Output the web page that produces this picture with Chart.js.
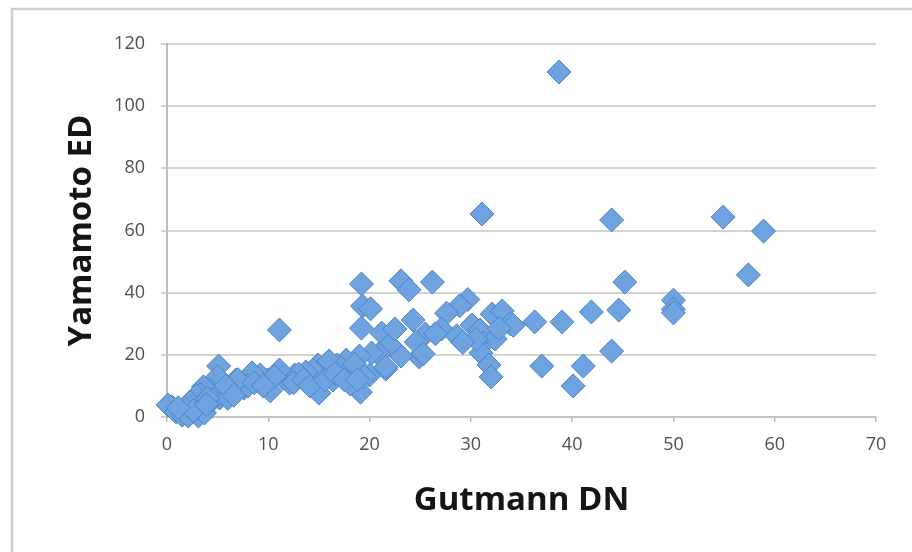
<!DOCTYPE html>
<html><head><meta charset="utf-8">
<script src="https://cdn.jsdelivr.net/npm/chart.js@4/dist/chart.umd.min.js"></script>
<style>html,body{margin:0;padding:0;background:#fff}#wrap{width:912px;height:552px;position:relative}</style>
</head><body><div id="wrap"><canvas id="c" width="912" height="552"></canvas></div>
<script>
const gutmannDN = [38.7,31.1,43.9,54.9,58.9,57.4,45.2,50,50,50,44.6,41.9,43.9,41.1,40.1,39,36.3,37,
  11.1,19.2,23.1,23.9,26.2,19.3,20.1,19.2,21.2,24.3,29.7,28.9,27.6,27.1,28.6,30.1,30.9,31.3,31,32.1,33.1,33.9,
  31.8,32,32.4,25.5,24.9,23.1,22,20.9,20.2,20,21.6,19.1,18.1,18.3,19,17.7,16.8,16.4,15.7,14.9,15,14.4,13.7,12.6,
  11.5,12.1,11.1,9.9,10.2,9.2,8.4,7.6,6.8,6.2,5.5,5.1,5,5.2,4.2,3.6,3.3,3.4,2.9,2.3,1.7,0.5,0.1,0.9,1.5,2.1,3.1,3.7,4.5,
  22.5,24.6,25.3,21.6,26.5,13,16,17.2,6,8,18.5,19.5,34.2,32.8,
  7,8.6,10.6,12.5,13.5,14.1,15.6,16.6,17.5,18.8,4,5.8,6.6,2.6,3.9,1.1,9.5,30.5,29.2];
const yamamotoED = [111,65.3,63.4,64.3,59.8,45.7,43.4,37.6,34.7,33.5,34.4,33.8,21.2,16.4,10,30.6,30.6,16.4,
  28,42.8,43.8,40.9,43.4,35.7,34.8,28.6,27,31.2,37.8,35.8,33.4,28.3,26.1,29.6,28,23.8,20.6,33.1,34.1,30,
  16.7,12.9,25.1,26.7,19.3,19.6,23.2,20.3,20.6,13.5,15.4,8,10.6,14.2,19.6,18.3,16.7,11.9,14.5,16.7,7.7,15.1,14.5,13.5,
  12.5,10.9,15.1,11.9,8.4,13.5,14.2,9.3,11.9,8,8.7,16.4,12.9,6.1,8.7,9.7,7.1,3.9,6.8,4.8,2.9,3.2,3.9,1.6,0.6,0.3,0.3,1.3,5.5,
  28.3,24.1,20.3,16.1,26.8,13.8,18,15.8,6,10,17,13,29.5,28.5,
  12,11,13,11,12,10,12,14,12,12,6,10,7,2,4,3,10,25,24];
const xTicks = [0,10,20,30,40,50,60,70];
const yTicks = [0,20,40,60,80,100,120];
const xTitle = 'Gutmann DN';
const yTitle = 'Yamamoto ED';

const points = gutmannDN.map((x, i) => ({x: x, y: yamamotoED[i]}));

const framePlugin = {
  id: 'frame',
  beforeDraw(chart) {
    const ctx = chart.ctx;
    ctx.save();
    ctx.strokeStyle = '#cfcfcf';
    ctx.lineWidth = 2.5;
    ctx.beginPath();
    ctx.moveTo(12, 560);
    ctx.lineTo(12, 9);
    ctx.lineTo(920, 9);
    ctx.stroke();
    ctx.restore();
  }
};

const tickFont = {family: '"Open Sans"', size: 18};
const titleFont = {family: '"Open Sans"', size: 33, weight: 'bold'};

new Chart(document.getElementById('c'), {
  type: 'scatter',
  data: {
    datasets: [{
      data: points,
      pointStyle: 'rectRot',
      pointRadius: 12,
      pointHoverRadius: 12,
      backgroundColor: '#6fa3df',
      borderColor: '#4d83c8',
      borderWidth: 1,
      clip: false
    }]
  },
  options: {
    responsive: false,
    animation: false,
    devicePixelRatio: 1,
    layout: {padding: {left: 0, right: 36, top: 44, bottom: 0}},
    plugins: {legend: {display: false}, tooltip: {enabled: false}},
    scales: {
      x: {
        type: 'linear', min: 0, max: 70,
        afterBuildTicks: s => { s.ticks = xTicks.map(v => ({value: v})); },
        afterFit: s => { s.height = 135; },
        grid: {drawOnChartArea: false, drawTicks: true, tickLength: 5, color: '#b8b8b8', lineWidth: 1.5},
        border: {display: true, color: '#c4c4c4', width: 2},
        ticks: {font: tickFont, color: '#505050', padding: 12, maxRotation: 0},
        title: {display: true, text: xTitle, font: titleFont, color: '#151515', padding: {top: 0, bottom: 32}}
      },
      y: {
        type: 'linear', min: 0, max: 120,
        afterBuildTicks: s => { s.ticks = yTicks.map(v => ({value: v})); },
        afterFit: s => { s.width = 167; },
        grid: {drawOnChartArea: true, drawTicks: true, tickLength: 6, color: '#d3d3d3', lineWidth: 2},
        border: {display: true, color: '#bcbcbc', width: 2},
        ticks: {font: tickFont, color: '#505050', padding: 16},
        title: {display: true, text: yTitle, font: titleFont, color: '#151515', padding: {top: 62, bottom: 0}}
      }
    }
  },
  plugins: [framePlugin]
});
</script>
</body></html>
